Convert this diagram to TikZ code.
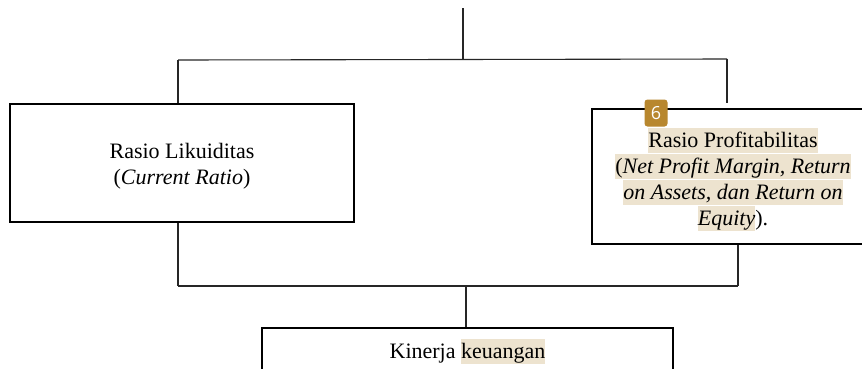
\documentclass[tikz,border=0pt]{standalone}
\usepackage{fontspec}
\setmainfont{Liberation Serif}
\newfontfamily\badgefont{Open Sans}
\definecolor{hl}{HTML}{EDE3CF}
\definecolor{badgecol}{HTML}{B8872E}
\newcommand{\hlt}[1]{{\setlength{\fboxsep}{0pt}\colorbox{hl}{\rule[-5.5pt]{0pt}{25pt}#1}}}
\tikzset{
  boxnode/.style={draw=black, line width=1.8pt, align=center, inner sep=0pt,
    font=\fontsize{22}{26}\selectfont},
  link/.style={draw=black!85, line width=1.1pt},
}
\begin{document}
\begin{tikzpicture}[x=1pt,y=-1pt]
\useasboundingbox (0,0) rectangle (862,368);
\clip (0,0) rectangle (862,368);
\fill[white] (0,0) rectangle (862,368);
% boxes
\node[boxnode, minimum width=344pt, minimum height=118pt] (L) at (182,163)
  {\rule{0pt}{22pt}Rasio Likuiditas\\(\textit{Current Ratio})};
\node[boxnode, minimum width=282pt, minimum height=135pt] (R) at (733,176.5)
  {\rule{0pt}{25.5pt}\hlt{Rasio Profitabilitas}\\
   \hlt{(\textit{Net Profit Margin, Return}}\\
   \hlt{\textit{on Assets, dan Return on}}\\
   \hlt{\textit{Equity}}).};
\node[boxnode, minimum width=411pt, minimum height=43pt] (B) at (467.5,349.5)
  {\rule{0pt}{23pt}Kinerja \hlt{keuangan}};
% badge
\node[fill=badgecol, rounded corners=3pt, minimum width=23pt, minimum height=27pt,
  inner sep=0pt, text=white, font=\badgefont\fontsize{18}{18}\selectfont] (badge) at (656,113) {6};
% top connectors
\coordinate (top) at (463,8);
\coordinate (tj) at (463,59.5);
\coordinate (lj) at (178,60);
\coordinate (rj) at (727,59);
\path[link] (top) -- (tj);
\path[link] (lj) -- (rj);
\path[link] (lj) -- (lj |- L.north);
\path[link, shorten >=5pt] (rj) -- (rj |- R.north);
% bottom connectors
\coordinate (lb) at (178,286);
\coordinate (rb) at (738,286);
\coordinate (bj) at (466,286);
\path[link] (lb |- L.south) -- (lb);
\path[link] (rb |- R.south) -- (rb);
\path[link] (lb) -- (rb);
\path[link] (bj) -- (bj |- B.north);
\end{tikzpicture}
\end{document}
